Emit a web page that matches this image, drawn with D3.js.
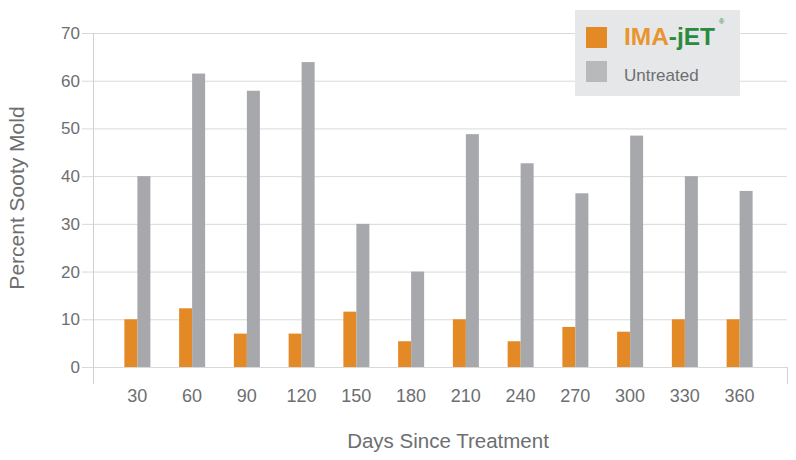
<!DOCTYPE html>
<html><head><meta charset="utf-8">
<script src="https://cdn.jsdelivr.net/npm/d3@7"></script>
<style>body{margin:0;background:#fff}svg{display:block}text{font-family:"Liberation Sans",Arial,sans-serif}</style>
</head><body><svg id="c" width="796" height="460"></svg>
<script>
const categories = ["30","60","90","120","150","180","210","240","270","300","330","360"];
const imajet = [10,12.3,7,7,11.6,5.4,10,5.4,8.4,7.4,10,10];
const untreated = [40,61.5,57.9,63.9,30,20,48.8,42.7,36.4,48.5,40,36.9];
const yTicks = [0,10,20,30,40,50,60,70];

const svg = d3.select("#c");
const x = d3.scaleBand().domain(categories).range([110,767]);
const y = d3.scaleLinear().domain([0,70]).range([367,33]);
const bw = 13;
const txt = "#6d6e71";

svg.append("g").selectAll("line").data(yTicks).join("line")
  .attr("x1",82).attr("x2",787).attr("y1",d=>y(d)+0.5).attr("y2",d=>y(d)+0.5)
  .attr("stroke","#d9d9d9").attr("stroke-width",1);
svg.append("line").attr("x1",93.5).attr("x2",93.5).attr("y1",y(70)).attr("y2",384).attr("stroke","#d0d0d0");
svg.append("line").attr("x1",787.5).attr("x2",787.5).attr("y1",y(0)).attr("y2",384).attr("stroke","#d0d0d0");

svg.append("g").selectAll("text").data(yTicks).join("text")
  .attr("x",80).attr("y",d=>y(d)+6).attr("text-anchor","end")
  .attr("font-size",17).attr("fill",txt).text(d=>d);

const cx = c => x(c)+x.bandwidth()/2;
svg.append("g").selectAll("rect").data(categories).join("rect")
  .attr("x",c=>cx(c)-bw).attr("width",bw)
  .attr("y",(c,i)=>y(imajet[i])).attr("height",(c,i)=>y(0)-y(imajet[i]))
  .attr("fill","#e38a27");
svg.append("g").selectAll("rect").data(categories).join("rect")
  .attr("x",c=>cx(c)).attr("width",bw)
  .attr("y",(c,i)=>y(untreated[i])).attr("height",(c,i)=>y(0)-y(untreated[i]))
  .attr("fill","#a7a8ab");

svg.append("g").selectAll("text").data(categories).join("text")
  .attr("x",c=>cx(c)).attr("y",402).attr("text-anchor","middle")
  .attr("font-size",18).attr("fill",txt).text(c=>c);

svg.append("text").attr("x",448).attr("y",448).attr("text-anchor","middle")
  .attr("font-size",20.5).attr("fill",txt).text("Days Since Treatment");
svg.append("text").attr("transform","translate(24,198) rotate(-90)").attr("text-anchor","middle")
  .attr("font-size",21).attr("fill",txt).text("Percent Sooty Mold");

const lg = svg.append("g");
lg.append("rect").attr("x",575).attr("y",10).attr("width",165).attr("height",86).attr("fill","#e6e7e8");
lg.append("rect").attr("x",586).attr("y",27).attr("width",21).attr("height",21).attr("fill","#e38a27");
lg.append("rect").attr("x",586).attr("y",61).attr("width",21).attr("height",21).attr("fill","#b8b9bb");
const logo = lg.append("text").attr("x",624).attr("y",45).attr("font-size",24).attr("font-weight","bold")
  .attr("textLength",91).attr("lengthAdjust","spacingAndGlyphs");
logo.append("tspan").attr("fill","#e8952f").text("IMA");
logo.append("tspan").attr("fill","#2a8a3e").text("-jET");
lg.append("text").attr("x",719).attr("y",24).attr("font-size",7).attr("fill","#2a8a3e").text("®");
lg.append("text").attr("x",624).attr("y",81).attr("font-size",17).attr("fill",txt).text("Untreated");
</script></body></html>
